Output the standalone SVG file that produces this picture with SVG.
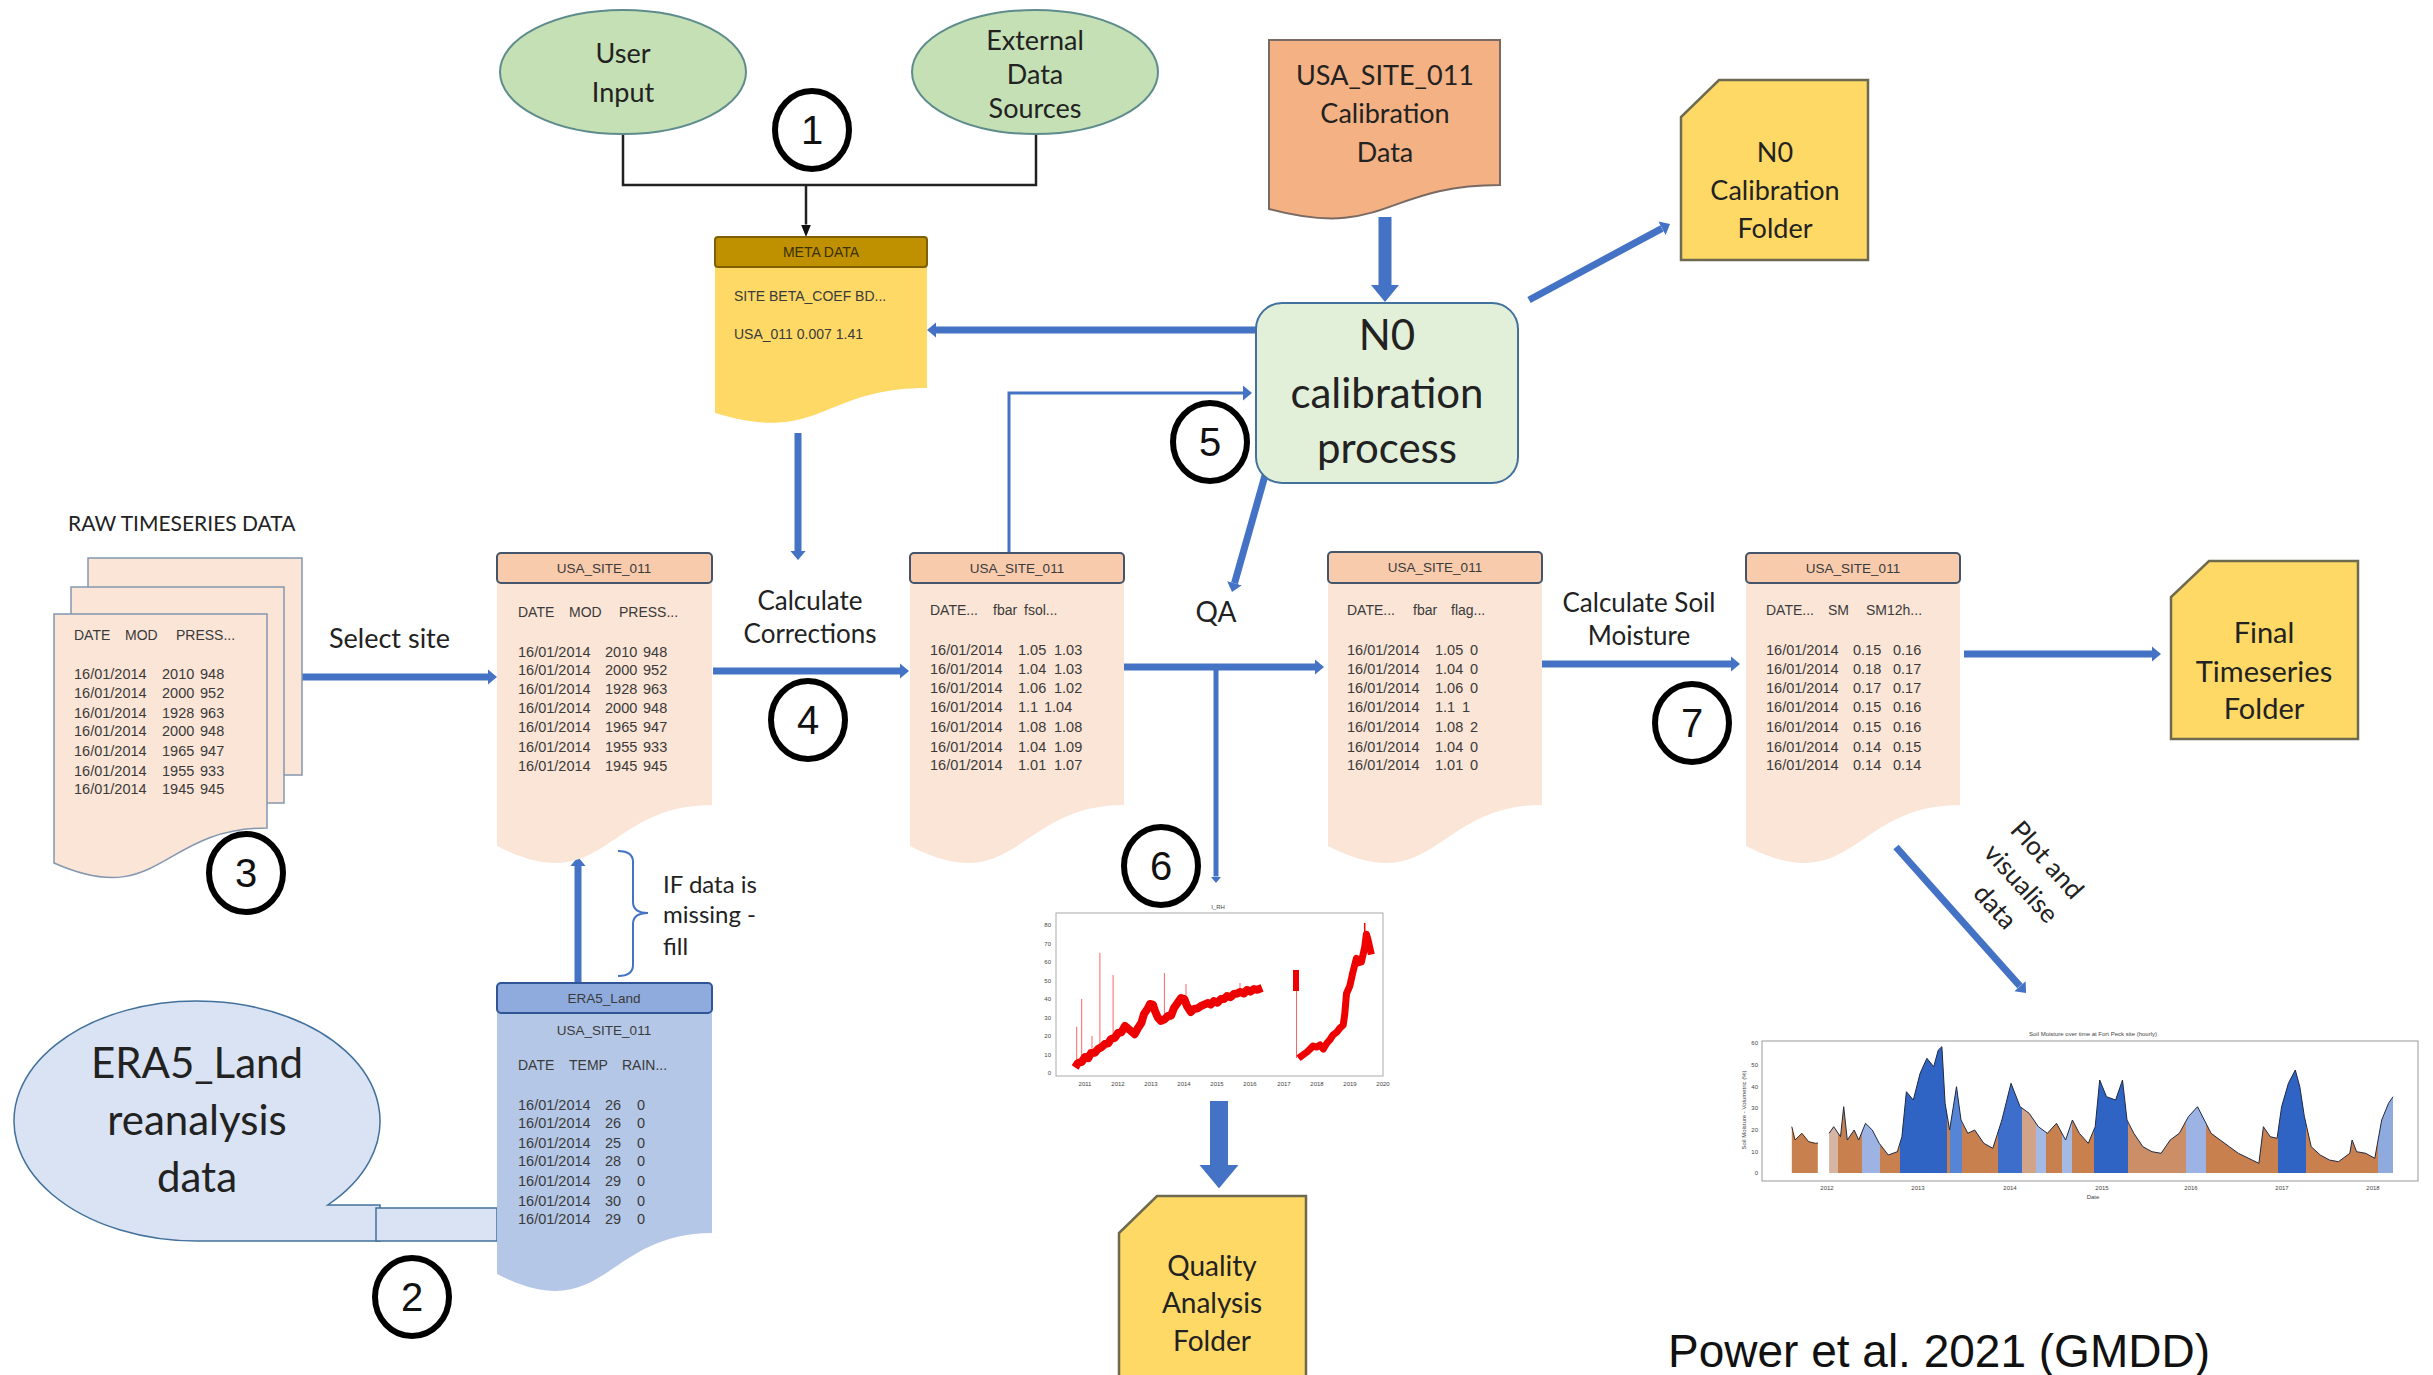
<svg xmlns="http://www.w3.org/2000/svg" width="2433" height="1375" viewBox="0 0 2433 1375">
<defs>
<style>
.t{font-family:Lato,"Open Sans","Liberation Sans",sans-serif;fill:#222;}
.c{text-anchor:middle;}
.tb{font-family:"Liberation Sans",Arial,sans-serif;font-size:14.5px;fill:#3a3a3a;}
.th{font-family:"Liberation Sans",Arial,sans-serif;font-size:14px;fill:#3a3a3a;}
.hd{font-family:"Liberation Sans",Arial,sans-serif;font-size:13.5px;fill:#3a3a3a;text-anchor:middle;}
.num{font-family:"Liberation Sans",Arial,sans-serif;font-size:40px;fill:#111;text-anchor:middle;}
.ring{fill:#fff;stroke:#000;stroke-width:6;}
.doc{fill:#FBE5D6;}
.hdr{fill:#F8CBAD;stroke:#44546A;stroke-width:2;}
.fold{fill:#FFD966;stroke:#6E6A4F;stroke-width:2.5;}
.blue{fill:none;stroke:#4472C4;stroke-width:7;}
.tick{font-family:"Liberation Sans",Arial,sans-serif;font-size:6px;fill:#444;}
</style>
<marker id="ab" viewBox="0 0 6 10" refX="0" refY="5" markerWidth="1.3" markerHeight="2.2" orient="auto" markerUnits="strokeWidth"><path d="M0,0 L6,5 L0,10 z" fill="#4472C4"/></marker>
<marker id="at" viewBox="0 0 6 10" refX="0" refY="5" markerWidth="3" markerHeight="5" orient="auto" markerUnits="strokeWidth"><path d="M0,0 L6,5 L0,10 z" fill="#4472C4"/></marker>
<marker id="ak" viewBox="0 0 10 8" refX="0" refY="4" markerWidth="5" markerHeight="4" orient="auto" markerUnits="strokeWidth"><path d="M0,0 L10,4 L0,8 z" fill="#111"/></marker>
<clipPath id="smclip">
<polygon points="1791.8,1173 1791.8,1126.7 1795,1140 1801.9,1133.3 1808.7,1141.7 1815.5,1143.3 1817.8,1143 1817.8,1173"/>
<polygon points="1829.1,1173 1829.1,1133.3 1833.7,1126.7 1840.5,1136.7 1843.7,1106.7 1847.3,1140 1854.2,1130 1858.7,1140 1865.5,1123.3 1872.3,1130 1879.2,1143.3 1888.3,1155 1897.4,1151.7 1901.9,1136.7 1906.4,1091.7 1913.3,1100 1920.1,1073.3 1926.9,1058.3 1933.7,1066.7 1938.3,1050 1941.9,1046.7 1945.1,1103.3 1949.6,1130 1956.5,1086.7 1961,1120 1967.8,1133.3 1974.7,1130 1983.8,1143.3 1992.8,1148.3 2001.9,1120 2011,1083.3 2020.1,1106.7 2029.2,1113.3 2038.3,1126.7 2047.4,1133.3 2056.5,1123.3 2065.6,1140 2072.4,1120 2079.3,1133.3 2088.3,1143.3 2095.2,1126.7 2099.7,1080 2106.5,1096.7 2115.6,1100 2122.5,1080 2127,1120 2133.8,1133.3 2142.9,1146.7 2152,1151.7 2161.1,1153.3 2170.2,1140 2179.3,1133.3 2188.4,1116.7 2197.5,1106.7 2204.3,1120 2211.1,1133.3 2220.2,1140 2229.3,1146.7 2238.4,1153.3 2252.1,1160 2258.9,1163.3 2263.4,1126.7 2270.2,1136.7 2277.1,1138.3 2281.6,1106.7 2288.4,1083.3 2295.3,1070 2299.8,1086.7 2304.4,1116.7 2311.2,1146.7 2320.3,1155 2329.4,1160 2338.5,1161.7 2349.8,1153.3 2352.1,1140 2356.6,1151.7 2365.7,1153.3 2374.8,1158.3 2381.7,1120 2388.5,1103.3 2393,1096.7 2393,1173"/>
</clipPath>
</defs>
<rect width="2433" height="1375" fill="#fff"/>

<!-- connectors -->
<g id="connectors">
<path d="M623,134 V185 H1036 V134" fill="none" stroke="#222" stroke-width="2.5"/>
<path d="M806,185 V224.5" fill="none" stroke="#222" stroke-width="2.5" marker-end="url(#ak)"/>
<path class="blue" d="M302,677 H488" marker-end="url(#ab)"/>
<path class="blue" d="M713,671 H900" marker-end="url(#ab)"/>
<path class="blue" d="M1124,667 H1315" marker-end="url(#ab)"/>
<path class="blue" d="M1542,664 H1731" marker-end="url(#ab)"/>
<path class="blue" d="M1964,654 H2152" marker-end="url(#ab)"/>
<path class="blue" d="M798,433 V551" marker-end="url(#ab)"/>
<path class="blue" d="M1256,330 H936" marker-end="url(#ab)"/>
<path class="blue" d="M1529,300 L1662,228.3" marker-end="url(#ab)"/>
<path class="blue" d="M1266,472 L1234.5,583.2" marker-end="url(#ab)"/>
<path class="blue" d="M578,983 V866" marker-end="url(#ab)"/>
<path class="blue" d="M1896,847 L2020,986.2" marker-end="url(#ab)"/>
<path class="blue" style="stroke-width:5" d="M1216,667 V876.5" marker-end="url(#ab)"/>
<path class="blue" style="stroke-width:3" d="M1009,553 V393 H1243" marker-end="url(#at)"/>
<path class="blue" style="stroke-width:13" d="M1385,217 V285" marker-end="url(#ab)"/>
<path class="blue" style="stroke-width:18" d="M1219,1101 V1165" marker-end="url(#ab)"/>
<path d="M618,851 Q633,851 633,862 V902 Q633,913 648,913 Q633,913 633,924 V965 Q633,976 618,976" fill="none" stroke="#4472C4" stroke-width="2"/>
</g>

<!-- ellipses -->
<g id="user-input">
<ellipse cx="623" cy="72" rx="123" ry="62" fill="#C5E0B4" stroke="#5E8C8C" stroke-width="2"/>
<text class="t c" x="623" y="63" font-size="27">User</text>
<text class="t c" x="623" y="102" font-size="27">Input</text>
</g>
<g id="external-data">
<ellipse cx="1035" cy="72" rx="123" ry="62" fill="#C5E0B4" stroke="#5E8C8C" stroke-width="2"/>
<text class="t c" x="1035" y="50" font-size="27">External</text>
<text class="t c" x="1035" y="84" font-size="27">Data</text>
<text class="t c" x="1035" y="118" font-size="27">Sources</text>
</g>

<!-- META DATA -->
<g id="meta-data">
<path d="M715,267 H927 V388 C821,388 821,445 715,413 Z" fill="#FFD966"/>
<rect x="715" y="237" width="212" height="30" rx="3" fill="#BF9000" stroke="#7F6000" stroke-width="2"/>
<text x="821" y="257" font-family="Liberation Sans,Arial,sans-serif" font-size="14" fill="#3a3000" text-anchor="middle">META DATA</text>
<text class="th" x="734" y="301" font-size="13">SITE  BETA_COEF BD...</text>
<text class="th" x="734" y="339" font-size="13">USA_011 0.007  1.41</text>
</g>

<!-- Calibration data -->
<g id="calibration-data">
<path d="M1269,40 H1500 V185 C1384.5,185 1384.5,240 1269,209 Z" fill="#F4B183" stroke="#7A6A64" stroke-width="2"/>
<text class="t c" x="1385" y="85" font-size="27">USA_SITE_011</text>
<text class="t c" x="1385" y="123" font-size="27">Calibration</text>
<text class="t c" x="1385" y="162" font-size="27">Data</text>
</g>

<!-- N0 Calibration Folder -->
<g id="n0-folder">
<path class="fold" d="M1719,80 H1868 V260 H1681 V117 Z"/>
<text class="t c" x="1775" y="162" font-size="27">N0</text>
<text class="t c" x="1775" y="200" font-size="27">Calibration</text>
<text class="t c" x="1775" y="238" font-size="27">Folder</text>
</g>

<!-- N0 calibration process -->
<g id="n0-process">
<rect x="1256" y="303" width="262" height="180" rx="26" fill="#E2F0D9" stroke="#41719C" stroke-width="2"/>
<text class="t c" x="1387" y="350" font-size="42">N0</text>
<text class="t c" x="1387" y="408" font-size="42">calibration</text>
<text class="t c" x="1387" y="463" font-size="42">process</text>
</g>

<!-- RAW timeseries -->
<g id="raw-timeseries">
<text class="t" x="68" y="531" font-size="21">RAW TIMESERIES DATA</text>
<rect x="88" y="558" width="214" height="217" fill="#FBE5D6" stroke="#8497B0" stroke-width="1.5"/>
<rect x="71" y="587" width="213" height="216" fill="#FBE5D6" stroke="#8497B0" stroke-width="1.5"/>
<path d="M54,614 H267 V828 C160.5,828 160.5,910 54,863 Z" fill="#FBE5D6" stroke="#8497B0" stroke-width="1.5"/>
<text class="th" y="640"><tspan x="74">DATE</tspan><tspan x="125">MOD</tspan><tspan x="176">PRESS...</tspan></text>
<text class="tb" y="679"><tspan x="74">16/01/2014</tspan><tspan x="162">2010</tspan><tspan x="200">948</tspan></text>
<text class="tb" y="698"><tspan x="74">16/01/2014</tspan><tspan x="162">2000</tspan><tspan x="200">952</tspan></text>
<text class="tb" y="718"><tspan x="74">16/01/2014</tspan><tspan x="162">1928</tspan><tspan x="200">963</tspan></text>
<text class="tb" y="736"><tspan x="74">16/01/2014</tspan><tspan x="162">2000</tspan><tspan x="200">948</tspan></text>
<text class="tb" y="756"><tspan x="74">16/01/2014</tspan><tspan x="162">1965</tspan><tspan x="200">947</tspan></text>
<text class="tb" y="776"><tspan x="74">16/01/2014</tspan><tspan x="162">1955</tspan><tspan x="200">933</tspan></text>
<text class="tb" y="794"><tspan x="74">16/01/2014</tspan><tspan x="162">1945</tspan><tspan x="200">945</tspan></text>
</g>

<!-- Box 1 -->
<g id="site-raw">
<path class="doc" d="M497,583 H712 V805 C604.5,805 604.5,901 497,846 Z"/>
<rect class="hdr" x="497" y="553" width="215" height="30" rx="4"/>
<text class="hd" x="604" y="573">USA_SITE_011</text>
<text class="th" y="617"><tspan x="518">DATE</tspan><tspan x="569">MOD</tspan><tspan x="619">PRESS...</tspan></text>
<text class="tb" y="657"><tspan x="518">16/01/2014</tspan><tspan x="605">2010</tspan><tspan x="643">948</tspan></text>
<text class="tb" y="675"><tspan x="518">16/01/2014</tspan><tspan x="605">2000</tspan><tspan x="643">952</tspan></text>
<text class="tb" y="694"><tspan x="518">16/01/2014</tspan><tspan x="605">1928</tspan><tspan x="643">963</tspan></text>
<text class="tb" y="713"><tspan x="518">16/01/2014</tspan><tspan x="605">2000</tspan><tspan x="643">948</tspan></text>
<text class="tb" y="732"><tspan x="518">16/01/2014</tspan><tspan x="605">1965</tspan><tspan x="643">947</tspan></text>
<text class="tb" y="752"><tspan x="518">16/01/2014</tspan><tspan x="605">1955</tspan><tspan x="643">933</tspan></text>
<text class="tb" y="771"><tspan x="518">16/01/2014</tspan><tspan x="605">1945</tspan><tspan x="643">945</tspan></text>
</g>

<!-- Box 2 -->
<g id="site-corrected">
<path class="doc" d="M910,583 H1124 V805 C1017,805 1017,901 910,846 Z"/>
<rect class="hdr" x="910" y="553" width="214" height="30" rx="4"/>
<text class="hd" x="1017" y="573">USA_SITE_011</text>
<text class="th" y="615"><tspan x="930">DATE...</tspan><tspan x="993">fbar</tspan><tspan x="1024">fsol...</tspan></text>
<text class="tb" y="655"><tspan x="930">16/01/2014</tspan><tspan x="1018">1.05</tspan><tspan x="1054">1.03</tspan></text>
<text class="tb" y="674"><tspan x="930">16/01/2014</tspan><tspan x="1018">1.04</tspan><tspan x="1054">1.03</tspan></text>
<text class="tb" y="693"><tspan x="930">16/01/2014</tspan><tspan x="1018">1.06</tspan><tspan x="1054">1.02</tspan></text>
<text class="tb" y="712"><tspan x="930">16/01/2014</tspan><tspan x="1018">1.1</tspan><tspan x="1044">1.04</tspan></text>
<text class="tb" y="732"><tspan x="930">16/01/2014</tspan><tspan x="1018">1.08</tspan><tspan x="1054">1.08</tspan></text>
<text class="tb" y="752"><tspan x="930">16/01/2014</tspan><tspan x="1018">1.04</tspan><tspan x="1054">1.09</tspan></text>
<text class="tb" y="770"><tspan x="930">16/01/2014</tspan><tspan x="1018">1.01</tspan><tspan x="1054">1.07</tspan></text>
</g>

<!-- Box 3 -->
<g id="site-qa">
<path class="doc" d="M1328,583 H1542 V805 C1435,805 1435,901 1328,846 Z"/>
<rect class="hdr" x="1328" y="552" width="214" height="31" rx="4"/>
<text class="hd" x="1435" y="572">USA_SITE_011</text>
<text class="th" y="615"><tspan x="1347">DATE...</tspan><tspan x="1413">fbar</tspan><tspan x="1451">flag...</tspan></text>
<text class="tb" y="655"><tspan x="1347">16/01/2014</tspan><tspan x="1435">1.05</tspan><tspan x="1470">0</tspan></text>
<text class="tb" y="674"><tspan x="1347">16/01/2014</tspan><tspan x="1435">1.04</tspan><tspan x="1470">0</tspan></text>
<text class="tb" y="693"><tspan x="1347">16/01/2014</tspan><tspan x="1435">1.06</tspan><tspan x="1470">0</tspan></text>
<text class="tb" y="712"><tspan x="1347">16/01/2014</tspan><tspan x="1435">1.1</tspan><tspan x="1462">1</tspan></text>
<text class="tb" y="732"><tspan x="1347">16/01/2014</tspan><tspan x="1435">1.08</tspan><tspan x="1470">2</tspan></text>
<text class="tb" y="752"><tspan x="1347">16/01/2014</tspan><tspan x="1435">1.04</tspan><tspan x="1470">0</tspan></text>
<text class="tb" y="770"><tspan x="1347">16/01/2014</tspan><tspan x="1435">1.01</tspan><tspan x="1470">0</tspan></text>
</g>

<!-- Box 4 -->
<g id="site-sm">
<path class="doc" d="M1746,583 H1960 V805 C1853,805 1853,901 1746,846 Z"/>
<rect class="hdr" x="1746" y="553" width="214" height="30" rx="4"/>
<text class="hd" x="1853" y="573">USA_SITE_011</text>
<text class="th" y="615"><tspan x="1766">DATE...</tspan><tspan x="1828">SM</tspan><tspan x="1866">SM12h...</tspan></text>
<text class="tb" y="655"><tspan x="1766">16/01/2014</tspan><tspan x="1853">0.15</tspan><tspan x="1893">0.16</tspan></text>
<text class="tb" y="674"><tspan x="1766">16/01/2014</tspan><tspan x="1853">0.18</tspan><tspan x="1893">0.17</tspan></text>
<text class="tb" y="693"><tspan x="1766">16/01/2014</tspan><tspan x="1853">0.17</tspan><tspan x="1893">0.17</tspan></text>
<text class="tb" y="712"><tspan x="1766">16/01/2014</tspan><tspan x="1853">0.15</tspan><tspan x="1893">0.16</tspan></text>
<text class="tb" y="732"><tspan x="1766">16/01/2014</tspan><tspan x="1853">0.15</tspan><tspan x="1893">0.16</tspan></text>
<text class="tb" y="752"><tspan x="1766">16/01/2014</tspan><tspan x="1853">0.14</tspan><tspan x="1893">0.15</tspan></text>
<text class="tb" y="770"><tspan x="1766">16/01/2014</tspan><tspan x="1853">0.14</tspan><tspan x="1893">0.14</tspan></text>
</g>

<!-- Final folder -->
<g id="final-folder">
<path class="fold" d="M2209,561 H2358 V739 H2171 V597 Z"/>
<text class="t c" x="2264" y="643" font-size="29">Final</text>
<text class="t c" x="2264" y="682" font-size="29">Timeseries</text>
<text class="t c" x="2264" y="719" font-size="29">Folder</text>
</g>

<!-- ERA5 bubble -->
<g id="era5-source">
<path d="M327.7,1205 L380,1205 L380,1241 L197,1241 A183,120 0 1,1 327.7,1205 Z" fill="#DAE3F3" stroke="#41719C" stroke-width="1.5"/>
<rect x="376" y="1208" width="121" height="33" fill="#DAE3F3" stroke="#41719C" stroke-width="1.5"/>
<text class="t c" x="197" y="1078" font-size="42">ERA5_Land</text>
<text class="t c" x="197" y="1135" font-size="42">reanalysis</text>
<text class="t c" x="197" y="1192" font-size="42">data</text>
</g>

<!-- ERA5 doc -->
<g id="era5-land">
<path d="M497,1013 H712 V1233 C604.5,1233 604.5,1329 497,1274 Z" fill="#B4C7E7"/>
<rect x="497" y="983" width="215" height="30" rx="4" fill="#8FAADC" stroke="#2F5597" stroke-width="2"/>
<text class="hd" x="604" y="1003">ERA5_Land</text>
<text class="hd" x="604" y="1035">USA_SITE_011</text>
<text class="th" y="1070"><tspan x="518">DATE</tspan><tspan x="569">TEMP</tspan><tspan x="622">RAIN...</tspan></text>
<text class="tb" y="1110"><tspan x="518">16/01/2014</tspan><tspan x="605">26</tspan><tspan x="637">0</tspan></text>
<text class="tb" y="1128"><tspan x="518">16/01/2014</tspan><tspan x="605">26</tspan><tspan x="637">0</tspan></text>
<text class="tb" y="1148"><tspan x="518">16/01/2014</tspan><tspan x="605">25</tspan><tspan x="637">0</tspan></text>
<text class="tb" y="1166"><tspan x="518">16/01/2014</tspan><tspan x="605">28</tspan><tspan x="637">0</tspan></text>
<text class="tb" y="1186"><tspan x="518">16/01/2014</tspan><tspan x="605">29</tspan><tspan x="637">0</tspan></text>
<text class="tb" y="1206"><tspan x="518">16/01/2014</tspan><tspan x="605">30</tspan><tspan x="637">0</tspan></text>
<text class="tb" y="1224"><tspan x="518">16/01/2014</tspan><tspan x="605">29</tspan><tspan x="637">0</tspan></text>
</g>

<!-- QA chart -->
<g id="qa-chart">
<rect x="1056" y="913" width="327" height="163" fill="#fff" stroke="#aaa" stroke-width="1"/>
<text class="tick" x="1218" y="909" text-anchor="middle" font-size="7">I_RH</text>
<g class="tick" text-anchor="end">
<text x="1051" y="1075">0</text><text x="1051" y="1057">10</text><text x="1051" y="1038">20</text><text x="1051" y="1020">30</text><text x="1051" y="1001">40</text><text x="1051" y="983">50</text><text x="1051" y="964">60</text><text x="1051" y="946">70</text><text x="1051" y="927">80</text>
</g>
<g class="tick" text-anchor="middle">
<text x="1085" y="1086">2011</text><text x="1118" y="1086">2012</text><text x="1151" y="1086">2013</text><text x="1184" y="1086">2014</text><text x="1217" y="1086">2015</text><text x="1250" y="1086">2016</text><text x="1284" y="1086">2017</text><text x="1317" y="1086">2018</text><text x="1350" y="1086">2019</text><text x="1383" y="1086">2020</text>
</g>
<g stroke="#f00" stroke-width="1" opacity="0.6">
<path d="M1076.7,1066 V1026.8 M1081.7,1062 V999 M1092,1055 V1036 M1099.9,1048 V952.8 M1113.1,1040 V975 M1164.4,1019 V973 M1296.5,990 V1058 M1186,1000 V984 M1240,994 V983"/>
</g>
<polyline points="1075.1,1067.5 1078,1063 1081.7,1061.9 1085,1057 1088.3,1058.2 1091,1053 1094.9,1052.7 1098,1049 1101.6,1047.1 1105,1044 1108.2,1043.4 1111,1039 1114.8,1037.9 1118,1033 1121.4,1032.3 1125,1026 1128,1028.6 1131,1031 1134.7,1034.2 1138,1028 1141.3,1023.1 1144,1014 1147.9,1008.3 1150,1004 1152.9,1004.6 1155,1011 1157.8,1017.5 1161,1021 1164.4,1019.4 1168,1016 1171.1,1015.7 1174,1008 1177.7,1002.7 1181,998 1184.3,999 1187,1006 1190.9,1012 1194,1009 1197.5,1008.3 1201,1006 1204.2,1004.6 1208,1003 1210.8,1004.6 1214,1001 1217.4,1002.7 1221,999 1224,999 1227,996 1230.6,997.2 1234,994 1237.3,993.5 1240,992 1243.9,993.5 1247,990 1250.5,991.6 1254,989 1257.1,989.8 1262.1,987.9" fill="none" stroke="#ee0000" stroke-width="8" stroke-linejoin="round"/>
<rect x="1293" y="970" width="6" height="21" fill="#ee0000"/>
<polyline points="1298.5,1058.2 1303.5,1054.5 1307,1052 1310.1,1049 1313,1046 1316.7,1047.1 1320,1045 1323.3,1049 1327,1043 1329.9,1039.7 1333,1035 1336.6,1032.3 1340,1028 1343.2,1024.9 1344.8,1013.8 1346.5,993.5 1349.8,986 1353.1,971.3 1356.4,958.3 1358,963 1361.4,962 1364.7,947.2 1366.4,934.3 1368,939.8 1369.7,947.2 1371.3,954.6" fill="none" stroke="#ee0000" stroke-width="7" stroke-linejoin="round"/>
<path d="M1364.7,945 V923" stroke="#f00" stroke-width="1.5"/>
</g>

<!-- Soil moisture chart -->
<g id="sm-chart">
<rect x="1762" y="1041" width="656" height="140" fill="#fff" stroke="#999" stroke-width="1"/>
<text class="tick" x="2093" y="1036" text-anchor="middle" font-size="6.5">Soil Moisture over time at Fort Peck site (hourly)</text>
<text class="tick" transform="translate(1746,1110) rotate(-90)" text-anchor="middle" font-size="5">Soil Moisture - Volumetric (%)</text>
<g class="tick" text-anchor="end">
<text x="1758" y="1175">0</text><text x="1758" y="1154">10</text><text x="1758" y="1132">20</text><text x="1758" y="1110">30</text><text x="1758" y="1089">40</text><text x="1758" y="1067">50</text><text x="1758" y="1045">60</text>
</g>
<g class="tick" text-anchor="middle">
<text x="1827" y="1190">2012</text><text x="1918" y="1190">2013</text><text x="2010" y="1190">2014</text><text x="2102" y="1190">2015</text><text x="2191" y="1190">2016</text><text x="2282" y="1190">2017</text><text x="2373" y="1190">2018</text><text x="2093" y="1199">Date</text>
</g>
<g clip-path="url(#smclip)">
<rect x="1790" y="1040" width="28" height="134" fill="#C8804F"/>
<rect x="1828" y="1040" width="10" height="134" fill="#D7B5A3"/>
<rect x="1838" y="1040" width="24" height="134" fill="#C8804F"/>
<rect x="1862" y="1040" width="18" height="134" fill="#9CB3E3"/>
<rect x="1880" y="1040" width="20" height="134" fill="#C8804F"/>
<rect x="1900" y="1040" width="47" height="134" fill="#2F64C4"/>
<rect x="1947" y="1040" width="3" height="134" fill="#C8804F"/>
<rect x="1950" y="1040" width="12" height="134" fill="#5585D4"/>
<rect x="1962" y="1040" width="36" height="134" fill="#C8804F"/>
<rect x="1998" y="1040" width="24" height="134" fill="#3D6ECB"/>
<rect x="2022" y="1040" width="14" height="134" fill="#D1A48A"/>
<rect x="2036" y="1040" width="10" height="134" fill="#A4BAE4"/>
<rect x="2046" y="1040" width="16" height="134" fill="#C8804F"/>
<rect x="2062" y="1040" width="10" height="134" fill="#A4BAE4"/>
<rect x="2072" y="1040" width="22" height="134" fill="#C8804F"/>
<rect x="2094" y="1040" width="34" height="134" fill="#2F64C4"/>
<rect x="2128" y="1040" width="58" height="134" fill="#CC8E66"/>
<rect x="2186" y="1040" width="20" height="134" fill="#9CB3E3"/>
<rect x="2206" y="1040" width="72" height="134" fill="#C8804F"/>
<rect x="2278" y="1040" width="28" height="134" fill="#2F64C4"/>
<rect x="2306" y="1040" width="72" height="134" fill="#C8804F"/>
<rect x="2378" y="1040" width="16" height="134" fill="#8FAADC"/>
</g>
<polyline points="1791.8,1126.7 1795,1140 1801.9,1133.3 1808.7,1141.7 1815.5,1143.3 1817.8,1143" fill="none" stroke="#3a2a22" stroke-width="1"/>
<polyline points="1829.1,1133.3 1833.7,1126.7 1840.5,1136.7 1843.7,1106.7 1847.3,1140 1854.2,1130 1858.7,1140 1865.5,1123.3 1872.3,1130 1879.2,1143.3 1888.3,1155 1897.4,1151.7 1901.9,1136.7 1906.4,1091.7 1913.3,1100 1920.1,1073.3 1926.9,1058.3 1933.7,1066.7 1938.3,1050 1941.9,1046.7 1945.1,1103.3 1949.6,1130 1956.5,1086.7 1961,1120 1967.8,1133.3 1974.7,1130 1983.8,1143.3 1992.8,1148.3 2001.9,1120 2011,1083.3 2020.1,1106.7 2029.2,1113.3 2038.3,1126.7 2047.4,1133.3 2056.5,1123.3 2065.6,1140 2072.4,1120 2079.3,1133.3 2088.3,1143.3 2095.2,1126.7 2099.7,1080 2106.5,1096.7 2115.6,1100 2122.5,1080 2127,1120 2133.8,1133.3 2142.9,1146.7 2152,1151.7 2161.1,1153.3 2170.2,1140 2179.3,1133.3 2188.4,1116.7 2197.5,1106.7 2204.3,1120 2211.1,1133.3 2220.2,1140 2229.3,1146.7 2238.4,1153.3 2252.1,1160 2258.9,1163.3 2263.4,1126.7 2270.2,1136.7 2277.1,1138.3 2281.6,1106.7 2288.4,1083.3 2295.3,1070 2299.8,1086.7 2304.4,1116.7 2311.2,1146.7 2320.3,1155 2329.4,1160 2338.5,1161.7 2349.8,1153.3 2352.1,1140 2356.6,1151.7 2365.7,1153.3 2374.8,1158.3 2381.7,1120 2388.5,1103.3 2393,1096.7" fill="none" stroke="#1f2a44" stroke-width="1"/>
</g>

<!-- Quality Analysis Folder -->
<g id="qa-folder">
<path class="fold" d="M1157,1196 H1306 V1380 H1119 V1233 Z"/>
<text class="t c" x="1212" y="1276" font-size="28">Quality</text>
<text class="t c" x="1212" y="1313" font-size="28">Analysis</text>
<text class="t c" x="1212" y="1351" font-size="28">Folder</text>
</g>

<!-- labels -->
<g id="labels">
<text class="t" x="329" y="648" font-size="27">Select site</text>
<text class="t c" x="810" y="610" font-size="26">Calculate</text>
<text class="t c" x="810" y="643" font-size="26">Corrections</text>
<text class="t c" x="1216" y="622" font-size="28">QA</text>
<text class="t c" x="1639" y="612" font-size="26">Calculate Soil</text>
<text class="t c" x="1639" y="645" font-size="26">Moisture</text>
<text class="t" x="663" y="893" font-size="24">IF data is</text>
<text class="t" x="663" y="923" font-size="24">missing  -</text>
<text class="t" x="663" y="955" font-size="24">fill</text>
<g transform="translate(2025,880) rotate(48)">
<text class="t c" x="0" y="-21" font-size="26">Plot and</text>
<text class="t c" x="0" y="14" font-size="26">visualise</text>
<text class="t c" x="0" y="49" font-size="26">data</text>
</g>
<text x="1668" y="1367" font-family="Liberation Sans,Arial,sans-serif" font-size="46" fill="#111">Power et al. 2021 (GMDD)</text>
</g>

<!-- step numbers -->
<g id="step-1"><ellipse class="ring" cx="812" cy="130" rx="37" ry="39"/><text class="num" x="812" y="144">1</text></g>
<g id="step-2"><ellipse class="ring" cx="412" cy="1297" rx="37" ry="39"/><text class="num" x="412" y="1311">2</text></g>
<g id="step-3"><ellipse class="ring" cx="246" cy="873" rx="37" ry="39"/><text class="num" x="246" y="887">3</text></g>
<g id="step-4"><ellipse class="ring" cx="808" cy="720" rx="37" ry="39"/><text class="num" x="808" y="734">4</text></g>
<g id="step-5"><ellipse class="ring" cx="1210" cy="442" rx="37" ry="39"/><text class="num" x="1210" y="456">5</text></g>
<g id="step-6"><ellipse class="ring" cx="1161" cy="866" rx="37" ry="39"/><text class="num" x="1161" y="880">6</text></g>
<g id="step-7"><ellipse class="ring" cx="1692" cy="723" rx="37" ry="39"/><text class="num" x="1692" y="737">7</text></g>
</svg>
